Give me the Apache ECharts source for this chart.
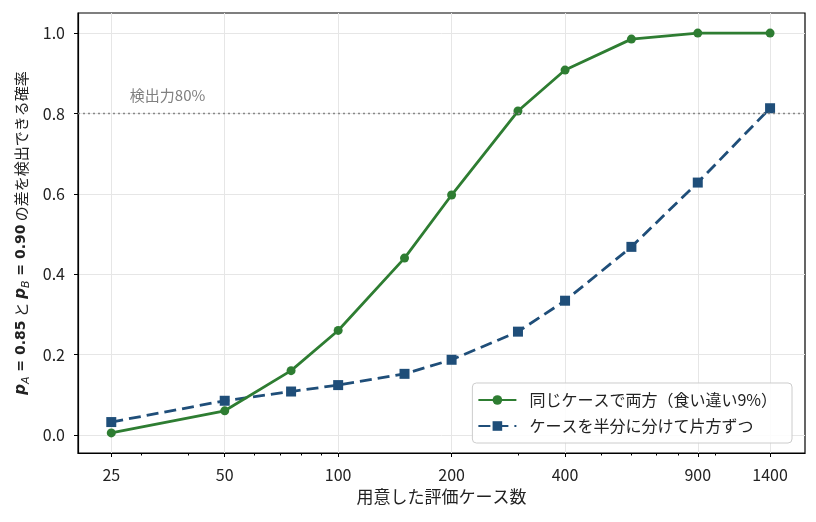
<!DOCTYPE html>
<html lang="ja">

<head>
    <meta charset="UTF-8">
    <title>検出力の比較</title>
    <style>
        * {
            margin: 0;
            padding: 0;
        }
    </style>
    <script src="https://cdn.jsdelivr.net/npm/echarts@6/dist/echarts.min.js"></script>
</head>

<body>
    <div id="chart" style="width: 816px;height: 522px;"></div>
    <script>
        // 用意した評価ケース数
        var caseCounts = [25, 50, 75, 100, 150, 200, 300, 400, 600, 900, 1400]
        // 同じケースで両方（食い違い9%）
        var pairedPower = [0.005, 0.06, 0.16, 0.26, 0.44, 0.597, 0.806, 0.908, 0.985, 1.0, 1.0]
        // ケースを半分に分けて片方ずつ
        var splitPower = [0.032, 0.085, 0.108, 0.124, 0.152, 0.187, 0.257, 0.334, 0.468, 0.628, 0.813]
        var xTicks = [25, 50, 100, 200, 400, 900, 1400]
        var xMinorTicks = [30, 40, 60, 70, 80, 90, 300, 500, 600, 700, 800, 1000]
        var yTicks = [0, 0.2, 0.4, 0.6, 0.8, 1.0]
        var targetPower = 0.8

        var font = '"Noto Sans CJK JP", "Noto Sans", sans-serif'
        var toPairs = (vals) => caseCounts.map((n, i) => [n, vals[i]])

        var chart = echarts.init(document.getElementById('chart'))
        var option = {
            animation: false,
            textStyle: { fontFamily: font },
            grid: {
                left: 78, right: 11, top: 13, bottom: 69,
                show: true, borderColor: '#000', borderWidth: 1.2,
                containLabel: false
            },
            legend: {
                orient: 'vertical',
                right: 24,
                bottom: 79,
                backgroundColor: 'rgba(255,255,255,0.85)',
                borderColor: '#cccccc',
                borderWidth: 1,
                borderRadius: 4,
                padding: [9, 15, 9, 5],
                itemGap: 10,
                itemWidth: 38,
                itemHeight: 12,
                textStyle: { fontSize: 16, color: '#222', fontFamily: font, padding: [0, 0, 0, 8] },
                data: ['同じケースで両方（食い違い9%）', 'ケースを半分に分けて片方ずつ']
            },
            xAxis: [{
                type: 'log',
                logBase: 10,
                min: 20.4,
                max: 1733,
                name: '用意した評価ケース数',
                nameLocation: 'middle',
                nameGap: 35,
                nameTextStyle: { fontSize: 17, color: '#222', fontFamily: font },
                axisLine: { onZero: false, lineStyle: { color: '#000', width: 1.2 } },
                axisTick: { show: true, customValues: xTicks, length: 4, lineStyle: { color: '#000' } },
                axisLabel: {
                    customValues: xTicks, fontSize: 16, color: '#222', margin: 14, fontFamily: font,
                    formatter: (v) => String(v)
                },
                minorTick: { show: false },
                splitLine: { show: true, customValues: xTicks, lineStyle: { color: '#e6e6e6', width: 1 } }
            }, {
                // 補助目盛り
                type: 'log',
                logBase: 10,
                min: 20.4,
                max: 1733,
                position: 'bottom',
                axisLine: { show: false, onZero: false },
                axisTick: { show: true, customValues: xMinorTicks, length: 2.5, lineStyle: { color: '#000' } },
                axisLabel: { show: false },
                splitLine: { show: false }
            }],
            yAxis: {
                type: 'value',
                min: -0.045,
                max: 1.05,
                name: '{p|p}{sub|A}{m| = 0.85} と {p|p}{sub|B}{m| = 0.90} の差を検出できる確率',
                nameLocation: 'middle',
                nameRotate: 90,
                nameGap: 36,
                nameTextStyle: {
                    fontSize: 15, color: '#222', fontFamily: font, lineHeight: 22,
                    rich: {
                        p: { fontSize: 15, fontStyle: 'italic', fontWeight: 'bold', fontFamily: 'DejaVu Sans', color: '#222', verticalAlign: 'middle', lineHeight: 22 },
                        sub: { fontSize: 11, fontStyle: 'italic', fontFamily: 'DejaVu Sans', color: '#222', verticalAlign: 'bottom', lineHeight: 22 },
                        m: { fontSize: 14, fontWeight: 'bold', fontFamily: 'DejaVu Sans', color: '#222', verticalAlign: 'middle', lineHeight: 22 }
                    }
                },
                axisLine: { show: true, lineStyle: { color: '#000', width: 1.2 } },
                axisTick: { show: true, customValues: yTicks, length: 4, lineStyle: { color: '#000' } },
                axisLabel: {
                    customValues: yTicks, fontSize: 16, color: '#222', margin: 13, fontFamily: font,
                    formatter: (v) => v.toFixed(1)
                },
                splitLine: { show: true, customValues: yTicks, lineStyle: { color: '#e6e6e6', width: 1 } }
            },
            series: [{
                name: '同じケースで両方（食い違い9%）',
                type: 'line',
                data: toPairs(pairedPower),
                symbol: 'circle',
                symbolSize: 9,
                z: 4,
                itemStyle: { color: '#2e7d32' },
                lineStyle: { color: '#2e7d32', width: 2.8 },
                markLine: {
                    silent: true,
                    symbol: 'none',
                    label: { show: false },
                    lineStyle: { color: '#888888', width: 1.4, type: [2, 3] },
                    data: [{ yAxis: targetPower }]
                },
                markPoint: {
                    silent: true,
                    symbol: 'circle',
                    symbolSize: 0,
                    label: {
                        show: true, position: 'right', distance: 0,
                        formatter: '検出力80%', fontSize: 15, color: '#808080', fontFamily: font
                    },
                    data: [{ coord: [28, 0.846] }]
                }
            }, {
                name: 'ケースを半分に分けて片方ずつ',
                type: 'line',
                data: toPairs(splitPower),
                symbol: 'rect',
                symbolSize: 10,
                z: 3,
                itemStyle: { color: '#1f4e79' },
                lineStyle: { color: '#1f4e79', width: 2.8, type: [12, 6] }
            }]
        }
        chart.setOption(option)
    </script>
</body>

</html>
